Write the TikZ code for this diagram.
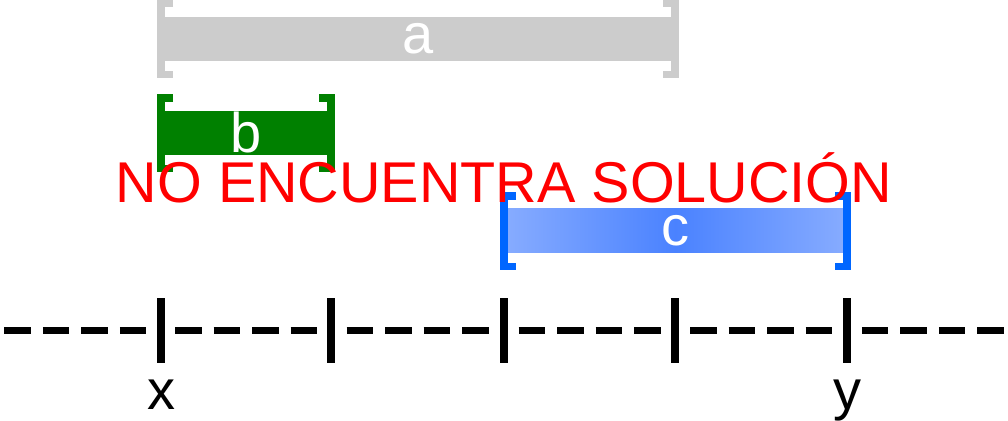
\documentclass[tikz,border=0pt]{standalone}
\usepackage{fontspec}
\setmainfont{Liberation Sans}
\definecolor{barGray}{HTML}{CCCCCC}
\definecolor{barGreen}{HTML}{008000}
\definecolor{barBlue}{HTML}{0066FF}
\definecolor{blueEdge}{HTML}{86ABFF}
\definecolor{blueMid}{HTML}{4A82FF}
\tikzset{
    big/.style={font=\fontsize{56}{60}\selectfont},
    tick/.style={line width=8pt, draw=black},
    axisdash/.style={line width=7.5pt, draw=black},
    bracket/.style={line width=7.5pt, line join=miter, line cap=butt},
    bar/.style={big, inner sep=0pt, text=white, minimum height=44pt},
}

\begin{document}
\begin{tikzpicture}[x=1pt, y=-1pt]
    \useasboundingbox (0,0) rectangle (1008,420);
    % ticks of the line
    \foreach \n/\t in {1/161, 2/331, 3/504, 4/675, 5/847}
        \coordinate (t\n) at (\t, 330.5);
    \foreach \t in {161, 331, 504, 675, 847}
        \draw[tick] (\t, 298) -- (\t, 363);
    % dashes between the ticks
    \foreach \a/\b in {-10.5/161, 161/331, 331/504, 504/675, 675/847, 847/1018.5}
        \foreach \k in {-57.75, -19.25, 19.25, 57.75}
            \draw[axisdash] ({(\a+\b)/2+\k-13.25}, 330.5) -- ({(\a+\b)/2+\k+13.25}, 330.5);
    \node[big, anchor=base] (x) at (161, 409) {x};
    \node[big, anchor=base] (y) at (847, 409) {y};

    % interval a
    \node[bar, fill=barGray, minimum width=506pt] (a) at (418, 39) {a};
    \draw[bracket, barGray] (173, 3.75) -- (161, 3.75) -- (161, 74.25) -- (173, 74.25);
    \draw[bracket, barGray] (663, 3.75) -- (675, 3.75) -- (675, 74.25) -- (663, 74.25);

    % interval b
    \node[bar, fill=barGreen, minimum width=162pt] (b) at (246, 132.5) {b};
    \draw[bracket, barGreen] (173, 97.75) -- (161, 97.75) -- (161, 168.25) -- (173, 168.25);
    \draw[bracket, barGreen] (319, 97.75) -- (331, 97.75) -- (331, 168.25) -- (319, 168.25);

    % interval c
    \node[bar, left color=blueEdge, right color=blueEdge, middle color=blueMid,
          minimum width=335pt] (c) at (675.5, 230.5) {c};
    \draw[bracket, barBlue] (516, 195.75) -- (504, 195.75) -- (504, 266.25) -- (516, 266.25);
    \draw[bracket, barBlue] (835, 195.75) -- (847, 195.75) -- (847, 266.25) -- (835, 266.25);

    \node[font=\fontsize{57.5}{60}\selectfont, text=red, anchor=base] (msg) at (504, 202) {NO ENCUENTRA SOLUCIÓN};
\end{tikzpicture}
\end{document}
